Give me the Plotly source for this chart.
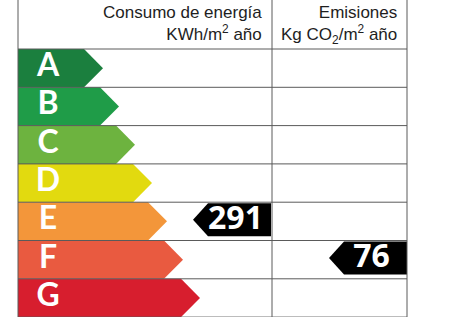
import plotly.graph_objects as go

# ---- data ----
classes = ["A", "B", "C", "D", "E", "F", "G"]
class_colors = ["#1b7f3e", "#1f9c48", "#6db33f", "#e2da0f", "#f3963a", "#e95a40", "#d71e2e"]
arrow_tips = [103, 119, 135, 152, 167, 183, 200]
consumo_value = 291
consumo_class = "E"
emisiones_value = 76
emisiones_class = "F"
header_consumo = ["Consumo de energía", "KWh/m<sup>2</sup> año"]
header_emisiones = ["Emisiones", "Kg CO<sub>2</sub>/m<sup>2</sup> año"]

# ---- layout geometry ----
W, H = 476, 317
X_LEFT, X_MID, X_RIGHT = 18, 272, 407
Y_HEAD = 49
ROW_H = 38.3
POINT = 19
MARK_W, MARK_PT, MARK_H = 78, 15, 33
LINE_COLOR = "#5a5a5a"

def row_top(i):
    return Y_HEAD + i * ROW_H

fig = go.Figure()

# class arrows
for i, (c, col, tip) in enumerate(zip(classes, class_colors, arrow_tips)):
    t, b = row_top(i), row_top(i + 1)
    m = (t + b) / 2
    body = tip - POINT
    fig.add_trace(go.Scatter(
        x=[X_LEFT, body, tip, body, X_LEFT, X_LEFT],
        y=[t, t, m, b, b, t],
        fill="toself", fillcolor=col, mode="lines",
        line=dict(width=0, color=col), hoverinfo="skip", showlegend=False))

fig.add_trace(go.Scatter(
    x=[48] * len(classes),
    y=[row_top(i) + ROW_H / 2 for i in range(len(classes))],
    text=classes, mode="text", textposition="middle center",
    textfont=dict(family="Lato", size=32, color="white", weight="bold"),
    hoverinfo="skip", showlegend=False))

# value markers
def add_marker(value, cls, x_right):
    i = classes.index(cls)
    t = row_top(i) + 1
    b = t + MARK_H
    m = (t + b) / 2
    x_tip = x_right - MARK_W
    x_body = x_tip + MARK_PT
    fig.add_trace(go.Scatter(
        x=[x_tip, x_body, x_right, x_right, x_body, x_tip],
        y=[m, t, t, b, b, m],
        fill="toself", fillcolor="black", mode="lines",
        line=dict(width=0, color="black"), hoverinfo="skip", showlegend=False))
    fig.add_trace(go.Scatter(
        x=[(x_body + x_right) / 2 - 4], y=[m + 1], text=[str(value)],
        mode="text", textposition="middle center",
        textfont=dict(family="Open Sans", size=32, color="white", weight="bold"),
        hoverinfo="skip", showlegend=False))

add_marker(consumo_value, consumo_class, X_MID - 1)
add_marker(emisiones_value, emisiones_class, X_RIGHT)

# grid lines
shapes = []
for x in (X_LEFT, X_MID, X_RIGHT):
    shapes.append(dict(type="line", xref="x", yref="y", x0=x, x1=x, y0=0, y1=H,
                       line=dict(color=LINE_COLOR, width=1)))
for i in range(len(classes) + 1):
    y = row_top(i)
    shapes.append(dict(type="line", xref="x", yref="y", x0=X_LEFT, x1=X_RIGHT, y0=y, y1=y,
                       line=dict(color=LINE_COLOR, width=1)))

annotations = []
hfont = dict(family="Liberation Sans, Arial", size=17, color="#1e1e1e")
for x_end, lines in ((X_MID - 8, header_consumo), (X_RIGHT - 8, header_emisiones)):
    annotations.append(dict(x=x_end, y=1, xref="x", yref="y", text="<br>".join(lines),
                            showarrow=False, xanchor="right", yanchor="top", align="right",
                            font=hfont))

fig.update_layout(
    width=W, height=H, margin=dict(l=0, r=0, t=0, b=0),
    paper_bgcolor="white", plot_bgcolor="white",
    xaxis=dict(range=[0, W], visible=False, fixedrange=True),
    yaxis=dict(range=[H, 0], visible=False, fixedrange=True),
    shapes=shapes, annotations=annotations, showlegend=False)

fig.write_html("out.html")
